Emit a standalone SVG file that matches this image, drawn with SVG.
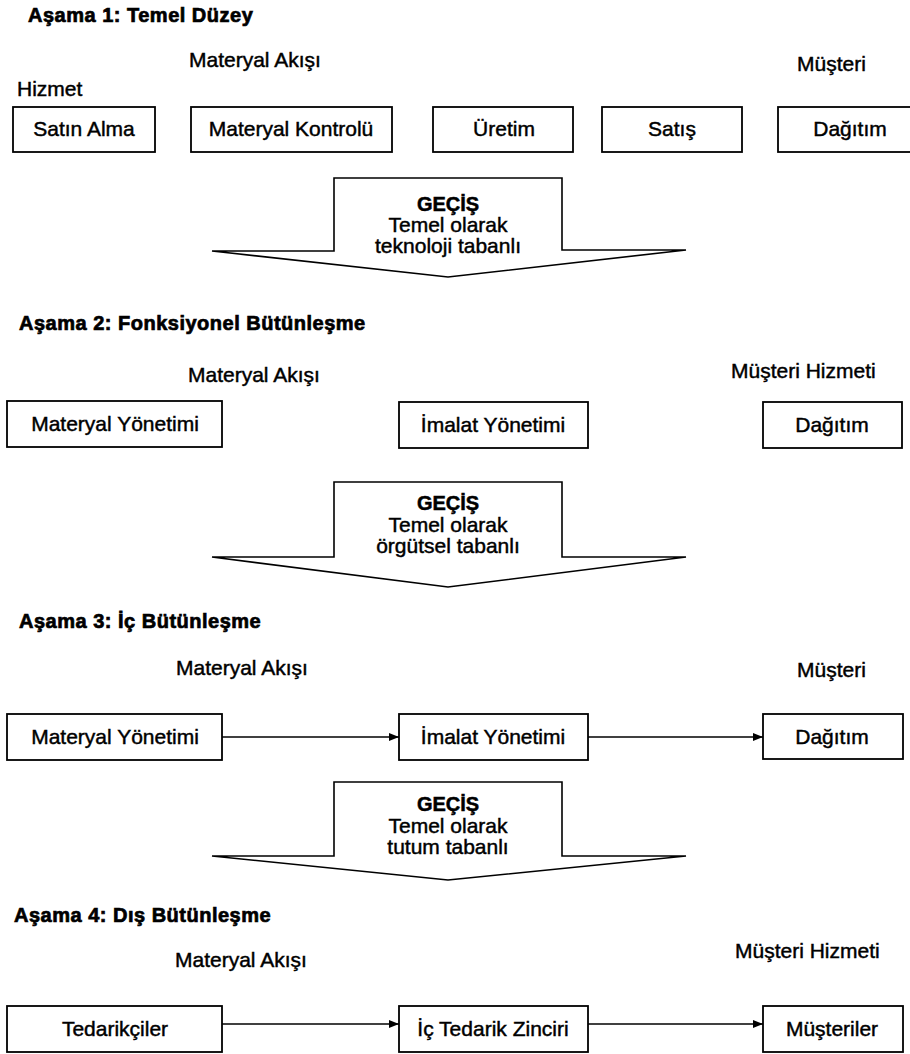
<svg xmlns="http://www.w3.org/2000/svg" width="910" height="1054" viewBox="0 0 910 1054">
  <style>
    text { font-family: "Liberation Sans", Arial, sans-serif; fill: #000; stroke: #000; stroke-width: 0.45; }
    .h { font-size: 20px; font-weight: bold; stroke-width: 0.7; letter-spacing: 0.5px; }
    .lbl { font-size: 21px; }
    .box { fill: #fff; stroke: #000; stroke-width: 1.8; }
    .bt { font-size: 21px; text-anchor: middle; }
    .shift { fill: #fff; stroke: #000; stroke-width: 1.6; stroke-linejoin: miter; }
    .st { font-size: 21px; text-anchor: middle; }
    .stb { font-size: 20px; font-weight: bold; text-anchor: middle; stroke-width: 0.5; }
    .conn { stroke: #000; stroke-width: 1.6; fill: none; }
  </style>
  <defs>
    <marker id="arrow" viewBox="0 0 10 10" refX="10" refY="5" markerWidth="10" markerHeight="10" markerUnits="userSpaceOnUse" orient="auto">
      <path d="M0,1 L10,5 L0,9 Z" fill="#000"/>
    </marker>
  </defs>

  <rect width="910" height="1054" fill="#fff"/>

  <!-- Stage 1 -->
  <g id="stage1">
    <text class="h" x="28" y="22">Aşama 1: Temel Düzey</text>
    <text class="lbl" x="189" y="67">Materyal Akışı</text>
    <text class="lbl" x="797" y="71">Müşteri</text>
    <text class="lbl" x="17" y="96">Hizmet</text>
  </g>
  <g id="n-satin-alma">
    <rect class="box" x="13" y="107" width="142" height="45"/>
    <text class="bt" x="84" y="136">Satın Alma</text>
  </g>
  <g id="n-materyal-kontrolu">
    <rect class="box" x="191" y="107" width="201" height="45"/>
    <text class="bt" x="291" y="136">Materyal Kontrolü</text>
  </g>
  <g id="n-uretim">
    <rect class="box" x="433" y="107" width="140" height="45"/>
    <text class="bt" x="504" y="136">Üretim</text>
  </g>
  <g id="n-satis">
    <rect class="box" x="602" y="107" width="140" height="45"/>
    <text class="bt" x="672" y="136">Satış</text>
  </g>
  <g id="n-dagitim1">
    <rect class="box" x="778" y="107" width="145" height="45"/>
    <text class="bt" x="850" y="136">Dağıtım</text>
  </g>

  <!-- Transition 1 -->
  <g id="shift1">
    <path class="shift" d="M334,178 H562 V250 H686 L448,277 L212,251 H334 Z"/>
    <text class="stb" x="448" y="211">GEÇİŞ</text>
    <text class="st" x="448" y="232">Temel olarak</text>
    <text class="st" x="448" y="253">teknoloji tabanlı</text>
  </g>

  <!-- Stage 2 -->
  <g id="stage2">
    <text class="h" x="19" y="330">Aşama 2: Fonksiyonel Bütünleşme</text>
    <text class="lbl" x="188" y="382">Materyal Akışı</text>
    <text class="lbl" x="731" y="378">Müşteri Hizmeti</text>
  </g>
  <g id="n-materyal-yonetimi2">
    <rect class="box" x="7" y="401" width="215" height="46"/>
    <text class="bt" x="115" y="431">Materyal Yönetimi</text>
  </g>
  <g id="n-imalat-yonetimi2">
    <rect class="box" x="399" y="402" width="189" height="46"/>
    <text class="bt" x="493" y="432">İmalat Yönetimi</text>
  </g>
  <g id="n-dagitim2">
    <rect class="box" x="763" y="402" width="139" height="46"/>
    <text class="bt" x="832" y="432">Dağıtım</text>
  </g>

  <!-- Transition 2 -->
  <g id="shift2">
    <path class="shift" d="M334,482 H562 V557 H686 L448,587 L212,557 H334 Z"/>
    <text class="stb" x="448" y="510">GEÇİŞ</text>
    <text class="st" x="448" y="532">Temel olarak</text>
    <text class="st" x="448" y="553">örgütsel tabanlı</text>
  </g>

  <!-- Stage 3 -->
  <g id="stage3">
    <text class="h" x="19" y="628">Aşama 3: İç Bütünleşme</text>
    <text class="lbl" x="176" y="675">Materyal Akışı</text>
    <text class="lbl" x="797" y="677">Müşteri</text>
  </g>
  <g id="n-materyal-yonetimi3">
    <rect class="box" x="7" y="714" width="215" height="46"/>
    <text class="bt" x="115" y="744">Materyal Yönetimi</text>
  </g>
  <g id="n-imalat-yonetimi3">
    <rect class="box" x="399" y="714" width="189" height="46"/>
    <text class="bt" x="493" y="744">İmalat Yönetimi</text>
  </g>
  <g id="n-dagitim3">
    <rect class="box" x="763" y="714" width="140" height="45"/>
    <text class="bt" x="832" y="744">Dağıtım</text>
  </g>

  <!-- Transition 3 -->
  <g id="shift3">
    <path class="shift" d="M334,782 H562 V856 H686 L448,880 L212,856 H334 Z"/>
    <text class="stb" x="448" y="811">GEÇİŞ</text>
    <text class="st" x="448" y="833">Temel olarak</text>
    <text class="st" x="448" y="854">tutum tabanlı</text>
  </g>

  <!-- Stage 4 -->
  <g id="stage4">
    <text class="h" x="14" y="922">Aşama 4: Dış Bütünleşme</text>
    <text class="lbl" x="175" y="967">Materyal Akışı</text>
    <text class="lbl" x="735" y="958">Müşteri Hizmeti</text>
  </g>
  <g id="n-tedarikciler">
    <rect class="box" x="7" y="1006" width="215" height="46"/>
    <text class="bt" x="115" y="1036">Tedarikçiler</text>
  </g>
  <g id="n-ic-tedarik">
    <rect class="box" x="399" y="1006" width="189" height="46"/>
    <text class="bt" x="493" y="1036">İç Tedarik Zinciri</text>
  </g>
  <g id="n-musteriler">
    <rect class="box" x="763" y="1006" width="140" height="46"/>
    <text class="bt" x="832" y="1036">Müşteriler</text>
  </g>

  <!-- Connectors -->
  <g id="connectors">
    <line class="conn" x1="222" y1="737" x2="399" y2="737" marker-end="url(#arrow)"/>
    <line class="conn" x1="588" y1="737" x2="763" y2="737" marker-end="url(#arrow)"/>
    <line class="conn" x1="222" y1="1024" x2="399" y2="1024" marker-end="url(#arrow)"/>
    <line class="conn" x1="588" y1="1024" x2="763" y2="1024" marker-end="url(#arrow)"/>
  </g>
</svg>
